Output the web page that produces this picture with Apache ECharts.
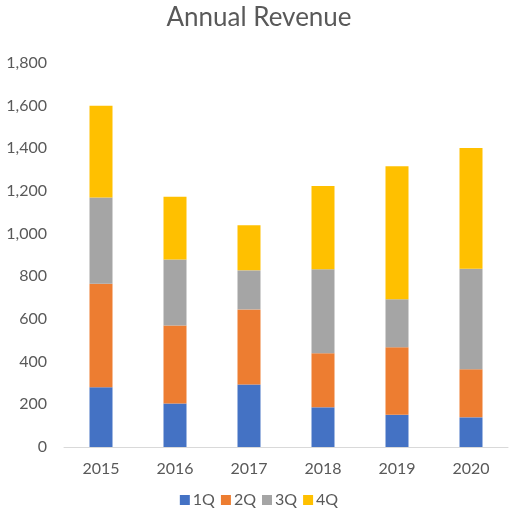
<!DOCTYPE html>
<html><head><meta charset="utf-8">
<script src="https://cdn.jsdelivr.net/npm/echarts@6/dist/echarts.min.js"></script>
<style>html,body{margin:0;padding:0;background:#fff}#c{width:518px;height:518px}</style>
</head><body><div id="c"></div>
<script>
const years = ['2015','2016','2017','2018','2019','2020'];
const q1 = [280, 204, 293, 186, 151, 139];
const q2 = [485, 366, 352, 253, 316, 225];
const q3 = [405, 309, 183, 394, 225, 472];
const q4 = [430, 294, 212, 390, 624, 565];
const seriesNames = ['1Q','2Q','3Q','4Q'];
const colors = ['#4472C4','#ED7D31','#A5A5A5','#FFC000'];
const yTicks = {min:0, max:1800, interval:200};

const font = 'Lato, "Open Sans", sans-serif';
const chart = echarts.init(document.getElementById('c'));
const data = [q1,q2,q3,q4];
chart.setOption({
  animation:false,
  title:{text:'Annual Revenue', left:'center', top:0, textStyle:{fontFamily:font, fontSize:26, fontWeight:'normal', color:'#595959'}},
  grid:{left:64, right:10, top:63, bottom:71},
  legend:{bottom:5, left:'center', itemWidth:10, itemHeight:10, itemGap:6, icon:'rect',
    textStyle:{fontFamily:font, fontSize:16, color:'#595959', padding:[0,0,0,-2]}, data:seriesNames},
  xAxis:{type:'category', data:years, axisTick:{show:false},
    axisLine:{lineStyle:{color:'#D9D9D9', width:1}},
    axisLabel:{fontFamily:font, fontSize:16, color:'#595959', margin:14}},
  yAxis:{type:'value', min:yTicks.min, max:yTicks.max, interval:yTicks.interval,
    splitLine:{show:false}, axisLine:{show:false}, axisTick:{show:false},
    axisLabel:{fontFamily:font, fontSize:16, color:'#595959', margin:17,
      formatter:v=>v.toLocaleString('en-US')}},
  series: seriesNames.map((n,i)=>({name:n, type:'bar', stack:'total', data:data[i], barWidth:23, itemStyle:{color:colors[i]}}))
});
</script></body></html>
